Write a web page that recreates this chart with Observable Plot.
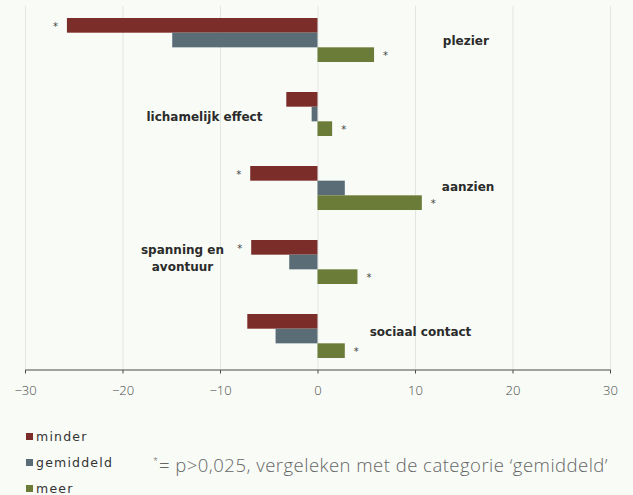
<!DOCTYPE html>
<html>
<head>
<meta charset="utf-8">
<script src="https://cdn.jsdelivr.net/npm/d3@7"></script>
<script src="https://cdn.jsdelivr.net/npm/@observablehq/plot@0.6"></script>
<style>
  html, body { margin: 0; padding: 0; background: #f8fbf6; }
  #wrap { position: relative; width: 633px; height: 495px; overflow: hidden; background: #f8fbf6; }
  #chart svg { display: block; background: #f8fbf6; }
  .leg { position: absolute; left: 26px; font-family: "DejaVu Sans", sans-serif; font-size: 12.5px; letter-spacing: 1.2px; color: #333; line-height: 14px; white-space: nowrap; }
  .leg i { display: inline-block; width: 7px; height: 7px; margin-right: 3px; vertical-align: 1px; }
  #note { position: absolute; left: 153px; top: 450px; font-family: "Open Sans", sans-serif; font-weight: 300; font-size: 18.5px; line-height: 22px; color: #666; white-space: nowrap; }
  #note sup { font-size: 9px; vertical-align: 8px; margin-right: 1px; }
</style>
</head>
<body>
<div id="wrap">
  <div id="chart"></div>
  <div id="legend"></div>
  <div id="note"><sup>*</sup><span id="notetext">= p&gt;0,025, vergeleken met de categorie ‘gemiddeld’</span></div>
</div>
<script>
const categories = ["plezier", "lichamelijk effect", "aanzien", "spanning en avontuur", "sociaal contact"];
const seriesNames = ["minder", "gemiddeld", "meer"];
const minder    = [-25.7, -3.2, -6.9, -6.8, -7.2];
const gemiddeld = [-14.9, -0.6,  2.8, -2.9, -4.3];
const meer      = [  5.8,  1.5, 10.7,  4.1,  2.8];
const sigMinder = [true, false, true, true, false];
const sigMeer   = [true, true, true, true, true];
const labelText = ["plezier", "lichamelijk effect", "aanzien", "spanning en\navontuur", "sociaal contact"];
const labelX    = [12.8, -5.7, 12.7, -13.9, 5.3];
const xTicks    = [-30, -20, -10, 0, 10, 20, 30];
const colors    = ["#7b2d2a", "#5a6d77", "#6b7b38"];

// styles (not data)
const labelAnchor = ["start", "end", "start", "middle", "start"];
const labelDy = [-1, 1, -3, -5, -6];
const third = 14.66;

const values = [minder, gemiddeld, meer];
const rows = [];
seriesNames.forEach((s, si) => categories.forEach((c, ci) => rows.push({
  category: c, series: s, value: values[si][ci],
  sig: si === 0 ? sigMinder[ci] : si === 2 ? sigMeer[ci] : false
})));
const bySeries = s => rows.filter(d => d.series === s);
const insets = [[0, 2 * third], [third, third], [2 * third, 0]];

const chart = Plot.plot({
  width: 633,
  height: 405,
  marginLeft: 25,
  marginRight: 23,
  marginTop: 6,
  marginBottom: 35.5,
  style: { background: "#f8fbf6", color: "#4a4a4a" },
  x: { domain: [-30, 30], ticks: xTicks, tickSize: 4, tickPadding: 12, line: true, label: null,
       tickFormat: d3.format("d") },
  y: { domain: categories, paddingInner: 0.41, paddingOuter: 0.14, axis: null },
  color: { domain: seriesNames, range: colors },
  marks: [
    Plot.gridX(xTicks, { stroke: "#e2e6e0", strokeOpacity: 1 }),
    ...seriesNames.map((s, si) => Plot.barX(bySeries(s), {
      x: "value", y: "category", fill: "series",
      insetTop: insets[si][0], insetBottom: insets[si][1]
    })),
    Plot.text(bySeries("minder").filter(d => d.sig), {
      x: "value", y: "category", text: () => "*", dx: -12, dy: -14,
      fontSize: 10, fill: "#444", fontFamily: "DejaVu Sans"
    }),
    Plot.text(bySeries("meer").filter(d => d.sig), {
      x: "value", y: "category", text: () => "*", dx: 11, dy: 15,
      fontSize: 10, fill: "#444", fontFamily: "DejaVu Sans"
    }),
    ...categories.map((c, i) => Plot.text([{ x: labelX[i], y: c, t: labelText[i] }], {
      x: "x", y: "y", text: "t", textAnchor: labelAnchor[i], dy: labelDy[i],
      lineHeight: 1.4, fontSize: 12, fontWeight: "bold", fill: "#2b2b2b",
      fontFamily: "DejaVu Sans"
    }))
  ]
});
chart.querySelectorAll("g[aria-label='x-axis tick label']").forEach(el => {
  el.setAttribute("font-family", "Open Sans");
  el.setAttribute("font-size", "13");
  el.setAttribute("font-weight", "300");
});
document.getElementById("chart").appendChild(chart);

const legend = document.getElementById("legend");
seriesNames.forEach((s, i) => {
  const div = document.createElement("div");
  div.className = "leg";
  div.style.top = (430 + i * 26) + "px";
  div.innerHTML = `<i style="background:${colors[i]}"></i>${s}`;
  legend.appendChild(div);
});

// fit footnote text to the reference width
const nt = document.getElementById("notetext");
const target = 449;
const w = nt.getBoundingClientRect().width;
const n = nt.textContent.length;
nt.style.letterSpacing = ((target - w) / n).toFixed(2) + "px";
</script>
</body>
</html>
